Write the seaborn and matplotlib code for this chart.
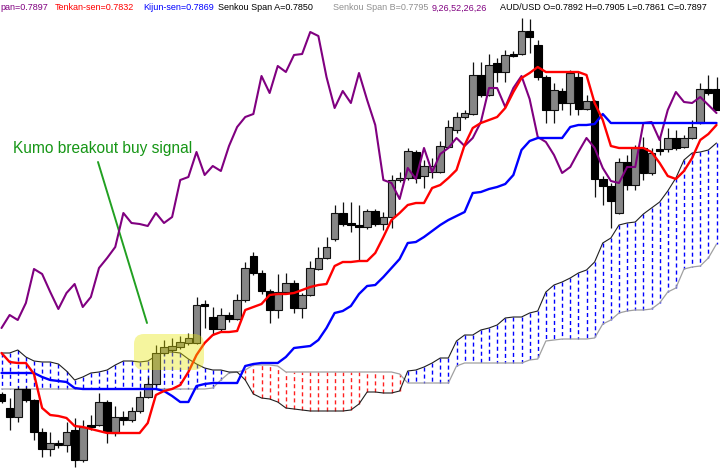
import numpy as np
import matplotlib
matplotlib.use("Agg")
import matplotlib.pyplot as plt
import seaborn as sns
from matplotlib.patches import FancyBboxPatch
from matplotlib.transforms import IdentityTransform

# ---- data: levels (screen level scale: 0 = top, 468 = bottom) ----
opens = [394, 408, 417, 389, 400, 432, 449, 443, 445, 430, 460, 425, 425, 402, 433, 417, 420, 411, 397, 384,
         353, 350, 347, 343, 343, 304, 317, 329, 315, 319, 300, 256, 273, 291, 310, 292, 283, 308, 295, 269,
         258, 239, 213, 223, 225, 227, 211, 224, 217, 180, 178, 152, 176, 172, 172, 147, 130, 117, 114, 75,
         95, 63, 72, 54, 54, 31, 45, 77, 110, 91, 103, 77, 109, 101, 179, 186, 213, 162, 185, 148,
         173, 149, 149, 138, 147, 138, 123, 89, 89]
closes = [401, 417, 389, 400, 432, 449, 443, 445, 432, 460, 427, 427, 402, 432, 417, 420, 411, 397, 384, 353,
          347, 346, 342, 338, 305, 306, 329, 315, 319, 300, 268, 273, 291, 310, 292, 283, 308, 295, 268, 258,
          247, 213, 224, 225, 227, 211, 224, 217, 180, 178, 151, 178, 166, 166, 146, 127, 117, 113, 75, 95,
          65, 72, 55, 56, 31, 37, 77, 110, 90, 103, 73, 109, 101, 179, 186, 201, 162, 185, 148, 173,
          153, 151, 138, 148, 138, 127, 89, 93, 110]
highs = [392, 398, 387, 387, 399, 428, 432, 440, 422, 418, 420, 415, 393, 400, 406, 411, 407, 391, 377, 345,
         340, 338, 336, 333, 297, 300, 307, 308, 312, 294, 262, 252, 270, 289, 274, 273, 280, 293, 261, 247,
         237, 205, 202, 202, 205, 209, 209, 212, 175, 172, 148, 150, 160, 158, 141, 120, 112, 110, 62, 62,
         54, 58, 50, 51, 18, 19, 40, 75, 83, 88, 70, 72, 95, 100, 176, 183, 158, 155, 145, 137,
         148, 137, 128, 130, 135, 120, 83, 75, 77]
lows = [403, 430, 422, 402, 440, 457, 456, 448, 452, 467, 462, 430, 426, 443, 436, 425, 422, 413, 398, 386,
        355, 352, 349, 345, 344, 328, 335, 331, 322, 320, 302, 275, 294, 323, 318, 294, 313, 318, 296, 270,
        259, 241, 226, 232, 260, 229, 226, 230, 228, 182, 180, 183, 188, 178, 173, 148, 133, 119, 115, 97,
        96, 82, 82, 57, 55, 53, 80, 123, 123, 110, 115, 115, 110, 197, 205, 228, 214, 190, 190, 180,
        175, 155, 152, 150, 148, 139, 124, 95, 110]
tenkan = [353, 362, 363, 363, 374, 408, 415, 416, 418, 426, 427, 429, 431, 433, 433, 433, 433, 433, 423, 395,
          391, 389, 385, 372, 355, 343, 335, 332, 332, 331, 310, 307, 304, 295, 294, 294, 293, 290, 287, 285,
          284, 266, 262, 262, 261, 261, 253, 237, 220, 213, 205, 203, 203, 188, 185, 178, 170, 145, 128, 123,
          120, 117, 108, 92, 78, 73, 67, 72, 72, 72, 72, 72, 75, 103, 120, 146, 148, 148, 148, 148,
          152, 163, 176, 179, 171, 158, 140, 134, 125]
kijun = [373, 373, 373, 373, 373, 377, 380, 381, 382, 388, 389, 389, 389, 389, 389, 389, 389, 389, 389, 389,
         391, 396, 402, 402, 386, 384, 383, 383, 383, 383, 366, 364, 363, 363, 363, 357, 348, 347, 346, 340,
         328, 313, 311, 306, 294, 286, 285, 277, 268, 259, 243, 242, 237, 231, 225, 220, 216, 212, 193, 192,
         189, 187, 184, 175, 150, 141, 138, 138, 138, 138, 127, 125, 125, 124, 114, 123, 123, 123, 123, 123,
         123, 123, 123, 123, 123, 123, 123, 123, 123]
chikou = [328, 315, 320, 303, 269, 274, 292, 309, 293, 284, 307, 297, 268, 258, 247, 213, 223, 224, 226, 213,
          223, 217, 180, 177, 152, 175, 166, 171, 146, 127, 117, 114, 76, 93, 66, 72, 55, 54, 32, 36,
          77, 108, 91, 103, 73, 100, 125, 180, 183, 199, 168, 179, 148, 172, 154, 148, 138, 146, 138, 122,
          88, 88, 107, 88, 76, 99, 137, 142, 155, 173, 167, 152, 138, 148, 168, 181, 183, 167, 167, 123,
          122, 140, 110, 92, 102, 103, 97, 105, 113]
span_a = [353, 353, 350, 357, 361, 362, 362, 364, 371, 380, 377, 373, 372, 370, 365, 361, 361, 362, 361, 356,
          352, 352, 353, 359, 364, 368, 370, 370, 372, 372, 380, 394, 398, 399, 402, 408, 409, 410, 411, 411,
          411, 411, 411, 410, 404, 392, 392, 393, 393, 391, 371, 370, 367, 363, 358, 358, 341, 335, 335, 330,
          328, 325, 318, 317, 317, 313, 311, 292, 285, 282, 278, 273, 270, 262, 243, 238, 225, 223, 222, 214,
          208, 202, 191, 178, 160, 153, 152, 150, 143]
span_b = [389, 389, 389, 389, 389, 389, 389, 389, 389, 389, 389, 389, 389, 389, 389, 389, 389, 389, 389, 389,
          389, 389, 389, 389, 389, 389, 388, 380, 373, 372, 370, 365, 365, 365, 366, 372, 372, 372, 372, 372,
          372, 372, 372, 372, 372, 372, 372, 372, 372, 374, 383, 383, 383, 383, 383, 383, 366, 363, 363, 363,
          363, 363, 363, 363, 363, 360, 359, 341, 340, 339, 339, 339, 339, 338, 324, 320, 313, 311, 310, 310,
          309, 303, 292, 288, 269, 267, 266, 258, 244]

header_texts = ["pan=0.7897", "Tenkan-sen=0.7832", "Kijun-sen=0.7869", "Senkou Span A=0.7850",
                "Senkou Span B=0.7795", "9,26,52,26,26", "AUD/USD O=0.7892 H=0.7905 L=0.7861 C=0.7897"]
annotation = "Kumo breakout buy signal"

# ---- styling ----
sns.set_style("white")
plt.rcParams["font.family"] = ["Liberation Sans", "DejaVu Sans"]

W, H = 720, 468
step, x0 = 8.125, 1.5
fig = plt.figure(figsize=(W / 100, H / 100), dpi=100)
ax = fig.add_axes([0, 0, 1, 1])
ax.set_xlim(-x0 / step, (W - x0) / step)
ax.set_ylim(H, 0)
ax.set_axis_off()

idx = np.arange(len(opens))
o, c, hi, lo = map(np.array, (opens, closes, highs, lows))
A, B = np.array(span_a), np.array(span_b)

# Kumo: dashed vertical hatching between the spans
up = A <= B
dash = (0, (2.9, 2.2))
ax.vlines(idx[up], A[up], B[up], colors="#0000ff", linewidth=1.0, linestyles=dash, zorder=1)
ax.vlines(idx[~up], A[~up], B[~up], colors="#ff2020", linewidth=1.0, linestyles=dash, zorder=1)
sns.lineplot(x=idx, y=B, ax=ax, color="#a0a0a0", linewidth=0.9, estimator=None, sort=False, zorder=2)
sns.lineplot(x=idx, y=A, ax=ax, color="#202020", linewidth=0.8, estimator=None, sort=False, zorder=2)

# Candles
ax.vlines(idx, hi, lo, colors="#111111", linewidth=0.9, zorder=3)
bullish = c < o
top = np.minimum(o, c)
height = np.maximum(np.abs(o - c), 1.2)
ax.bar(idx[bullish], height[bullish], bottom=top[bullish], width=0.93,
       color="#868686", edgecolor="#111111", linewidth=0.8, zorder=4)
ax.bar(idx[~bullish], height[~bullish], bottom=top[~bullish], width=0.93,
       color="#000000", edgecolor="#000000", linewidth=0.8, zorder=4)

# Indicator lines
sns.lineplot(x=idx, y=chikou, ax=ax, color="#800080", linewidth=1.5, estimator=None, sort=False, zorder=5)
sns.lineplot(x=idx, y=kijun, ax=ax, color="#0000ff", linewidth=1.7, estimator=None, sort=False, zorder=6)
sns.lineplot(x=idx, y=tenkan, ax=ax, color="#ff0000", linewidth=1.7, estimator=None, sort=False, zorder=7)

# Highlight of the breakout (pixel coordinates)
hl = FancyBboxPatch((134, H - 370), 70, 36, boxstyle="round,pad=0,rounding_size=10",
                    facecolor="#e6e600", edgecolor="none", alpha=0.38,
                    transform=IdentityTransform(), zorder=10)
fig.add_artist(hl)

# Annotation
fig.text(13 / W, 1 - 152.5 / H, annotation, color="#169616", fontsize=11.2, va="baseline", ha="left")
ax.annotate("", xy=(147, H - 323), xycoords="figure pixels", xytext=(98, H - 162),
            textcoords="figure pixels",
            arrowprops=dict(arrowstyle="-", color="#22a022", linewidth=1.4, shrinkA=0, shrinkB=0))

# Header
header_x = [0, 55, 143, 218, 333, 432, 500]
header_colors = ["#800080", "#ff0000", "#0000ff", "#000000", "#909090", "#800080", "#000000"]
for s, xp, col in zip(header_texts, header_x, header_colors):
    fig.text(xp / W, 1 - 10.5 / H, s, color=col, fontsize=6.5, va="baseline", ha="left")

fig.savefig("out.png", dpi=100, facecolor="white")
